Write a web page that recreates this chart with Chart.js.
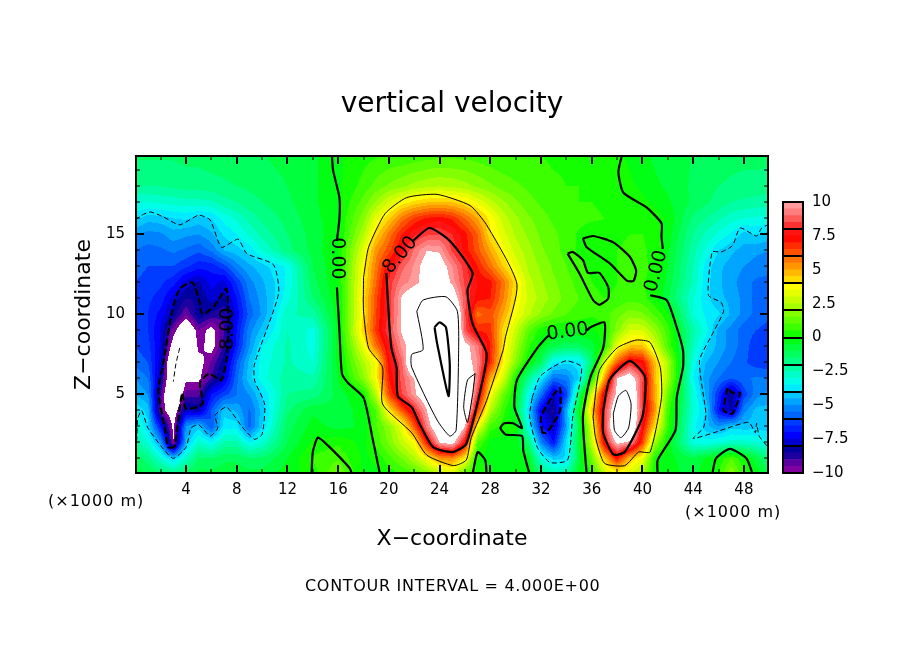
<!DOCTYPE html>
<html>
<head>
<meta charset="utf-8">
<script src="https://cdn.jsdelivr.net/npm/chart.js@4"></script>
<style>
    html, body { margin: 0; background: #fff; }
    #page { position: relative; width: 904px; height: 654px; overflow: hidden; }
    canvas { position: absolute; }
    .note { position: absolute; font-family: "DejaVu Sans"; color: #000; white-space: nowrap; }
</style>
</head>
<body>
<div id="page">
    <canvas id="contourChart" width="904" height="654" style="left:0;top:0;width:904px;height:654px"></canvas>
    <canvas id="colorBar" width="134" height="300" style="left:770px;top:192px;width:134px;height:300px"></canvas>
    <div class="note" style="left:48px;top:491px;font-size:16px;letter-spacing:1px">(×1000 m)</div>
    <div class="note" style="left:685px;top:502px;font-size:16px;letter-spacing:1px">(×1000 m)</div>
    <div class="note" style="left:305px;top:576px;font-size:16px;letter-spacing:0.7px">CONTOUR INTERVAL = 4.000E+00</div>
</div>
<script>
const xNodes = [0,1,2,3,4,5,6,7,8,9,10, 12,14,16,18, 19,20,21,22,23,24,25,26,27,28,29,30,
    31,32,33,34,35,36,37,38,39,40,41,42, 44,45,46,47,48,49,50];
const zNodes = [20,18,17,16,15,14,13,12,11,10,9,8,7,6,5,4,3,2,1,0];

// vertical velocity, one row per zNodes entry
const wRows = [
    [-1.4,-1.4,-1.4,-1.4,-1.3,-1.3,-1.2,-1.2,-1.1,-1.0,-1.0, -0.8,-0.6,-0.1,0.3, 0.4,0.5,0.5,0.6,0.7,0.8,0.8,0.8,0.7,0.6,0.5,0.5, 0.5,0.5,0.4,0.4,0.4,0.3,0.3,0.1,-0.1,-0.4,-0.6,-0.8, -1,-1.1,-1.2,-1.3,-1.3,-1.3,-1.3],
    [-2,-2,-2,-1.9,-1.8,-1.8,-1.7,-1.6,-1.5,-1.4,-1.3, -1,-0.6,-0.1,0.7, 1.2,1.6,1.9,2.2,2.4,2.5,2.4,2.2,1.9,1.6,1.3,1.1, 0.9,0.7,0.6,0.5,0.5,0.4,0.4,0.3,0.1,-0.1,-0.4,-0.6, -1.1,-1.3,-1.5,-1.6,-1.7,-1.7,-1.8],
    [-3,-3,-2.9,-2.8,-2.7,-2.7,-2.6,-2.2,-2,-1.7,-1.5, -1.1,-0.6,-0.1,1.2, 2.1,3,3.7,4.2,4.5,4.6,4.5,4.1,3.4,2.7,2.1,1.6, 1.2,0.9,0.7,0.6,0.5,0.5,0.4,0.4,0.3,0.1,-0.1,-0.4, -1.1,-1.4,-1.7,-2,-2.1,-2.2,-2.3],
    [-3.8,-4.3,-4.2,-4,-3.9,-4.2,-4,-3.3,-2.9,-2.3,-1.9, -1.3,-0.7,-0.1,1.8, 3.3,4.4,5.7,6.6,7.1,7.3,6.9,6,5,3.8,2.8,2.1, 1.6,1.2,0.9,0.8,0.7,0.6,0.5,0.5,0.4,0.3,0.2,-0.1, -1.6,-2,-2.4,-2.8,-3,-3.1,-3.2],
    [-5,-5.2,-5.1,-4.7,-4.9,-5,-4.6,-3.9,-3.5,-2.9,-2.3, -1.5,-0.8,-0.1,2.4, 4.3,5.7,7,7.9,8.4,8.5,8,7.2,6,4.1,3.2,2.4, 1.9,1.4,1.1,0.8,0.4,0.1,0.3,0.4,0.5,0.5,0.3,-0.2, -2,-2.6,-3.1,-3.6,-4.2,-3.9,-4.2],
    [-5.5,-5.7,-5.6,-5.4,-5.6,-5.9,-5.4,-4.5,-4.2,-3.8,-3, -1.7,-0.8,0,3.2, 5.3,6.3,7.6,9.1,10,9.9,8.4,7.3,6.2,5,3.7,2.8, 2.2,1.6,1.2,0.8,0.4,0.3,0.4,0.5,0.6,0.6,0.3,-0.4, -2.3,-3.1,-4,-4.4,-4.7,-4.9,-5],
    [-5.8,-6,-6,-6,-6.4,-6.8,-6.8,-6.2,-5.2,-4.6,-4.2, -3.4,-1,0,3.7, 5.7,7.5,8.8,9.6,10.5,10.6,9.5,8.2,7,5.8,4.5,3.3, 2.4,1.9,1.4,1,0.6,0.4,0.4,0.5,0.6,0.6,0.4,-0.5, -2.5,-3.7,-4.4,-4.7,-5,-5.2,-5.3],
    [-6,-6.2,-6.4,-6.8,-7.7,-8.1,-7.3,-7.7,-6.4,-5.2,-4.6, -3.4,-1.2,0,3.9, 6,8.2,9.3,9.7,10.5,11,9.8,8.4,7.5,7.2,5.8,4.2, 2.7,2.1,1.6,1.2,0.8,0.5,0.3,0.5,0.7,0.6,0.2,-0.7, -2.6,-3.8,-4.4,-4.8,-5.3,-5.6,-5.7],
    [-6.2,-6.4,-6.7,-7.7,-8.5,-8.4,-7.8,-8.2,-7,-5.5,-4.8, -3.2,-1.5,-0.1,4.2, 6.4,8.2,10.1,11,12.1,12.1,11,8.6,7.2,7,5.6,3.9, 2.9,2.3,1.8,1.3,1,0.7,0.5,0.6,0.8,0.7,0.1,-0.9, -3,-3.8,-4.4,-4.6,-5.2,-5.7,-5.8],
    [-6.3,-6.5,-7.2,-8.2,-9.5,-8.1,-8.6,-8.9,-7.3,-5.8,-4.9, -2.6,-2.3,-0.2,4.1, 6.5,8.2,10.1,11.2,13.5,14.3,12.8,8.6,5.8,6.3,5,3.6, 2.6,1.9,1.4,1,0.8,0.6,0.8,1.3,1.8,1.6,0.9,0.1, -3,-3.6,-3.9,-4.6,-5.2,-5.7,-5.9],
    [-6.3,-6.5,-7.6,-9.6,-11.5,-9.5,-10.4,-9,-7,-5.2,-4.3, -2.5,-3.2,-0.3,4.4, 6.7,8.5,10.1,11,14,16,13.5,8.7,7,6.7,4.3,2.8, 1.2,0.2,-0.1,-0.1,-0.1,-0.1,0.3,1.8,3,3,2,0.7, -2.3,-3.3,-4.7,-5.2,-5.8,-6,-6.2],
    [-6,-6.3,-7.6,-10.6,-12.5,-9.7,-10.4,-8.8,-6.8,-5,-3.5, -2.4,-3.2,-0.3,3.4, 5.8,7.7,9.6,10.7,12.4,15.5,13,10.5,9.2,7,4.2,2.3, 0.6,-0.3,-0.9,-1.3,-1.2,-0.7,0.2,3.4,4.6,4.6,3,1, -2.6,-3.9,-4.7,-5.2,-5.8,-6.3,-6.5],
    [-5.7,-6,-7.8,-12,-13,-10.4,-9.4,-8.2,-6,-4.3,-3.3, -2.4,-3,-0.3,2.4, 3.6,7.4,8.8,12.2,13.3,14.8,12.8,10.6,9.5,6.9,3.9,1.8, 0,-1.2,-3.6,-3.9,-3.8,-1.5,3,6.1,7.9,7.4,4.6,2.3, -3.2,-4.5,-5,-5.5,-5.9,-6.3,-6.4],
    [-5,-5.5,-8.2,-12,-10.2,-10.2,-9,-7.7,-5.6,-4.2,-3.2, -2.2,-2.4,-0.5,1.8, 3.7,7,8.7,10,11.5,13.5,12.8,12,9.2,5,3,0.2, -1.9,-3.7,-5.6,-5.3,-4,0.2,5,10.1,11,8.6,4.7,2.3, -3.5,-4.8,-5.5,-6,-5.6,-5.4,-5.5],
    [-4.5,-5,-9,-12.5,-9.2,-9.2,-7,-6.2,-5.5,-5,-4, -2,-1.8,-0.8,0.1, 2.6,6.4,8.4,9.8,11,12.5,13,12.5,8.3,3.7,1.4,-0.1, -3.2,-5.5,-8,-6.3,-1.5,3,7.8,10.3,12.2,8.2,5,1.3, -3,-4.6,-6.5,-8.5,-6.3,-5.2,-4.8],
    [-3.5,-4.2,-9.5,-11,-7.8,-8.1,-6,-4.2,-4.6,-5.6,-4.3, -1.6,-0.6,-0.9,-0.2, 1,4,6.2,8,10,12.3,13,12.2,6.6,2.4,0.7,-0.6, -3.8,-7.5,-8.7,-4.6,-0.4,4.5,8.3,11.5,12.5,8.4,5.2,0.8, -3,-4,-7,-8.2,-5.2,-4.3,-4.3],
    [-2.7,-3.9,-7,-10.3,-5,-4.2,-6,-3.7,-3.7,-5.8,-4, -1.2,-0.3,-0.7,-0.4, 0.9,1.9,3.3,6.2,9.3,11.5,12.8,10,3.6,0.8,0.3,0.1, -3.3,-6.9,-8,-4.8,-0.8,3.2,8.3,12.3,12.4,7.5,4.1,0.6, -3.3,-4.3,-5,-4.2,-4.3,-4.2,-4.3],
    [-2.2,-3,-4.8,-10,-4.4,-2.8,-3.4,-2.4,-2.4,-3.5,-2.9, -1,0.1,0.4,-0.2, 0.7,1.6,2.7,3.6,7.2,10,10.6,7.5,1,-0.2,-0.3,-0.2, -1.5,-5.2,-7,-3.8,-0.6,2.6,7.6,10.3,9.8,6.6,2,-0.1, -3.2,-3.3,-3,-2.8,-2.8,-3,-3.5],
    [-1.2,-1.8,-2.9,-4.1,-2.7,-1.4,-1.5,-1.1,-1.1,-1.4,-1.4, -0.5,0.6,0.9,-0.1, 0.1,0.8,1.5,2.4,3.7,5.2,5.4,4,0.1,-0.3,-0.4,-0.3, -0.2,-3,-4.2,-3.9,-0.7,1.4,4.4,7.2,4.6,3.4,0.2,-0.3, -0.9,-0.4,0.1,1,0.1,-0.8,-1.8],
    [-0.7,-1,-1.3,-1.6,-1.2,-0.8,-0.8,-0.7,-0.7,-0.8,-0.8, -0.2,0.2,1.6,-0.2, -0.1,0.2,0.5,0.9,1.5,2.4,2.9,0.9,0.3,-0.1,-0.2,-0.2, 0,-1.5,-2.2,-2,-0.3,0.4,2.5,3.2,2.9,2.1,0.1,-0.3, -0.7,-0.2,0.5,2,0.5,-0.2,-0.8]
];

// contour lines, pairs of x (km) and z (km)
const zeroWest = [[15.5,20],[15.6,19],[16.1,17.3],[16.1,16],[15.9,14.6]];
const zeroWestLow = [[15.9,11.7],[16.1,9],[16.3,6.3],[16.8,5.7],[18,4.8],[18.7,2.3],[19.3,0]];
const zeroBumpWest = [[13.9,0],[14,1.4],[14.4,2.3],[15.2,1.8],[16.9,0.4],[17.1,0]];
const zeroBumpMid = [[26.6,0],[27,1.4],[27.6,0.9],[27.7,0]];
const zeroHook = [[31.1,0],[30.6,1.5],[30.5,2.4],[29.2,2.5],[28.8,2.9],[29.1,3.2],[29.8,3.2],[30.5,2.9],[29.9,4.2],[30.1,5.9],[31.7,7.9],[32.6,8.7]];
const zeroHookEnd = [[35.6,9],[35.9,9.2],[37,9.5],[36.9,7.9],[35.9,6.1],[35.3,3.6],[35.6,0]];
const zeroEast = [[38.4,20],[38.1,18.9],[38.5,17.6],[40.3,16.7],[41.5,15.7],[41.5,14.9],[41.6,14.1]];
const zeroEastLow = [[40.6,11.2],[41.9,10.9],[42.7,9.2],[43.2,7.75],[43.2,6.7],[42.7,4.8],[42.6,2.75],[41.2,0.9],[41.2,0]];
const zeroLoopA = [[35.3,14.75],[36.1,14.9],[37.7,14.5],[39,13.6],[39.5,12.75],[39.3,12.1],[38.8,12.1],[37.4,13.2],[35.6,14.2],[35.3,14.75]];
const zeroLoopB = [[34.1,13.8],[34.5,13.9],[35.3,13.4],[35.7,12.6],[36.6,12.6],[37.3,11.7],[37.3,11],[36.6,10.6],[36.1,10.9],[35,12.6],[34.1,13.8]];
const zeroBumpEast = [[45.5,0],[45.8,1],[46.9,1.6],[48.2,1],[48.7,0]];

const fourCentral = [[18,12.3],[18.4,14.2],[19.7,16.3],[21.4,17.3],[23.8,17.5],[26.4,16.8],[27.7,15.6],[30.1,11.9],[29.2,8.6],[29,7.75],[27.7,4.6],[26.5,2.3],[26.1,0.9],[25.1,0.55],[23,1.2],[21.8,2.6],[19.5,4.4],[19.5,6.7],[18.4,7.9],[18,10.2],[18,12.3]];
const eightCentral = [[21.9,14.6],[23.2,15.4],[24.8,14.6],[26.6,12.6],[26.2,11.5],[26.6,9.4],[27.7,7.6],[27.4,5.9],[26.1,1.9],[25,1.4],[23.5,1.7],[22.4,3.2],[21.8,4.2],[20.7,4.9],[20.6,6.7],[20.2,7.9],[20,9.8],[19.8,12.6]];
const twelveCentral = [[22.2,10.2],[22.7,10.9],[24.5,11.1],[25.4,10.2],[25.5,7.75],[25.3,2.75],[24.8,2.4],[23.8,3.4],[21.8,6.7],[21.8,7.5],[22.7,7.8],[22.2,10.2]];
const sixteenCentral = [[23.6,9.2],[24,9.5],[24.5,9.2],[24.8,6.9],[24.7,4.9],[23.8,8.2],[23.6,9.2]];
const twelveSide = [[26.8,6.3],[26.2,5.9],[25.9,4.2],[26.2,3.25],[26.6,5],[26.8,6.3]];

const fourEast = [[36.1,3.6],[36.6,6.5],[38,7.9],[39.5,8.4],[40.6,8.25],[41.4,6.7],[41.5,4.8],[40.6,1.4],[39.7,1.4],[38.6,0.55],[37,0.7],[36.3,2.3],[36.1,3.6]];
const eightEast = [[36.9,4],[37.4,5.9],[39,7.1],[40.2,6.1],[40,3.6],[38.6,1.4],[37.7,1.25],[36.9,2.6],[36.9,4]];
const twelveEast = [[37.7,3.8],[38.1,4.9],[38.7,5.25],[39.1,4.4],[38.9,2.9],[38.3,2.3],[37.8,2.75],[37.7,3.8]];

const minusFourWest = [[0,15.9],[0.5,16.2],[1.2,16.4],[2.2,16.1],[3.5,15.6],[5,16.2],[5.9,15.9],[6.8,14.2],[8.1,14.7],[8.8,13.8],[10.9,13.1],[11.3,11.3],[9.4,6.9],[9.4,5.9],[10.2,4.4],[10,2.5],[9.4,2.2],[8.5,2.9],[7.2,4.2],[6.3,3.7],[6.5,2.9],[5.9,2.4],[5,3.1],[4.4,2.9],[4,1.7],[3,1],[2.2,1.6],[1,2.9],[0.5,4],[0.2,3.5],[0.1,2]];
const minusEightWest = [[3.1,1.7],[2.6,1.7],[2.3,3],[1.8,5.25],[2.2,6.9],[2.9,10.2],[3.5,11.6],[4.5,12],[5,11],[5.3,10],[6.2,10.5],[7.2,11.6],[7.3,7.9],[6.8,5.9],[5.8,6.3],[5.1,5.7],[5.3,4.4],[4,4.1],[3.7,5.1],[3.1,1.7]];
const minusTwelveWest = [[3.5,7.9],[3.2,6.9],[3,5.8]];
const minusFourMid = [[31.3,4.8],[31.9,6.1],[32.9,6.7],[34,7.1],[35.2,6.7],[34.5,3.6],[34.1,0.9],[32.7,0.75],[31.7,1.7],[31.1,3.6],[31.3,4.8]];
const minusEightMid = [[32.1,2.6],[32,3.6],[33,5],[33.5,5.4],[33.5,4],[33,3.2],[32.4,2.6],[32.1,2.6]];
const minusFourEast = [[49.8,1.8],[49.2,2.4],[49,3.2],[48.9,2.6],[48.4,3.25],[47.1,3],[45.6,2.6],[44,2.25],[44.8,2.9],[45,3.8],[44.5,7.1],[45.6,8.9],[46.4,10.2],[46.2,10.75],[45.2,11.2],[45.5,13.9],[46.2,13.9],[47.1,14.3],[47.7,15.4],[49,14.9],[49.4,15.4],[49.9,15.6]];
const minusEightEast = [[46.7,5.4],[46.4,4],[47.1,3.8],[47.7,5.1],[47.1,5.1],[46.7,5.4]];

// levels are 0.5 wide, from -10 up to 10
const barLevels = [-10,-9.5,-9,-8.5,-8,-7.5,-7,-6.5,-6,-5.5,-5,-4.5,-4,-3.5,-3,-2.5,-2,-1.5,-1,-0.5,
    0,0.5,1,1.5,2,2.5,3,3.5,4,4.5,5,5.5,6,6.5,7,7.5,8,8.5,9,9.5];
const barDividers = [-10,-8,-6,-4,-2,0,2,4,6,8,10];
const barTickValues = [-10,-7.5,-5,-2.5,0,2.5,5,7.5,10];
const barTickLabels = ["−10","−7.5","−5","−2.5","0","2.5","5","7.5","10"];
const xTickValues = [4,8,12,16,20,24,28,32,36,40,44,48];
const xMinorValues = [2,6,10,14,18,22,26,30,34,38,42,46];
const zTickValues = [5,10,15];
const zMinorValues = [1,2,3,4,6,7,8,9,11,12,13,14,16,17,18,19];

const bandColors = [
    [128,0,160],[90,0,160],[30,0,160],[0,0,160],
    [0,0,210],[0,0,255],[0,30,255],[0,60,255],
    [0,100,255],[0,130,255],[0,165,255],[0,200,255],
    [0,235,255],[0,255,230],[0,255,200],[0,255,165],
    [0,255,130],[0,255,95],[0,255,60],[0,255,20],
    [20,255,0],[60,255,0],[95,255,0],[130,255,0],
    [165,255,0],[200,255,0],[230,255,0],[255,255,0],
    [255,220,0],[255,185,0],[255,150,0],[255,115,0],
    [255,80,0],[255,45,0],[255,10,0],[255,20,20],
    [255,50,50],[255,90,90],[255,125,125],[255,155,155]
];

const contourLabels = [
    { text: "0.00", x: 15.9, z: 13.5, angle: 90 },
    { text: "8.00", x: 7.3, z: 9.1, angle: -90 },
    { text: "8.00", x: 20.9, z: 13.7, angle: -50 },
    { text: "0.00", x: 34.1, z: 8.9, angle: -8 },
    { text: "0.00", x: 41.1, z: 12.7, angle: -75 }
];

const THICK = 2.2;
const THIN = 1;
const contourLines = [
    [zeroWest, THICK, []], [zeroWestLow, THICK, []], [zeroBumpWest, THICK, []], [zeroBumpMid, THICK, []],
    [zeroHook, THICK, []], [zeroHookEnd, THICK, []], [zeroEast, THICK, []], [zeroEastLow, THICK, []],
    [zeroLoopA, THICK, []], [zeroLoopB, THICK, []], [zeroBumpEast, THICK, []],
    [fourCentral, THIN, []], [eightCentral, THICK, []], [twelveCentral, THIN, []], [sixteenCentral, THICK, []], [twelveSide, THIN, []],
    [fourEast, THIN, []], [eightEast, THICK, []], [twelveEast, THIN, []],
    [minusFourWest, THIN, [5, 3]], [minusEightWest, THICK, [7, 3]], [minusTwelveWest, THIN, [5, 3]],
    [minusFourMid, THIN, [5, 3]], [minusEightMid, THICK, [7, 3]],
    [minusFourEast, THIN, [5, 3]], [minusEightEast, THICK, [7, 3]]
];

function lookupColor(value) {
    const band = Math.floor((value + 10) * 2);
    if (band < 0 || band >= bandColors.length) return [255, 255, 255];
    return bandColors[band];
}

function findCell(nodes, value, descending) {
    for (let i = 0; i < nodes.length - 1; i++) {
        const a = nodes[i], b = nodes[i + 1];
        if (descending ? (value <= a && value >= b) : (value >= a && value <= b)) {
            return { index: i, part: (value - a) / (b - a) };
        }
    }
    return { index: nodes.length - 2, part: 1 };
}

const fieldPlugin = {
    id: "field",
    beforeDatasetsDraw(chart) {
        const area = chart.chartArea;
        const xScale = chart.scales.x;
        const yScale = chart.scales.y;
        const width = Math.round(area.right - area.left);
        const height = Math.round(area.bottom - area.top);
        const off = document.createElement("canvas");
        off.width = width;
        off.height = height;
        const offCtx = off.getContext("2d");
        const image = offCtx.createImageData(width, height);

        const columns = [];
        for (let px = 0; px < width; px++) {
            columns.push(findCell(xNodes, xScale.getValueForPixel(area.left + px + 0.5), false));
        }

        for (let py = 0; py < height; py++) {
            const row = findCell(zNodes, yScale.getValueForPixel(area.top + py + 0.5), true);
            const upper = wRows[row.index];
            const lower = wRows[row.index + 1];
            for (let px = 0; px < width; px++) {
                const col = columns[px];
                const top = upper[col.index] + (upper[col.index + 1] - upper[col.index]) * col.part;
                const bottom = lower[col.index] + (lower[col.index + 1] - lower[col.index]) * col.part;
                const color = lookupColor(top + (bottom - top) * row.part);
                const at = (py * width + px) * 4;
                image.data[at] = color[0];
                image.data[at + 1] = color[1];
                image.data[at + 2] = color[2];
                image.data[at + 3] = 255;
            }
        }
        offCtx.putImageData(image, 0, 0);
        chart.ctx.drawImage(off, area.left, area.top);
    },
    afterDatasetsDraw(chart) {
        const ctx = chart.ctx;
        const area = chart.chartArea;
        const xScale = chart.scales.x;
        const yScale = chart.scales.y;

        ctx.save();
        ctx.strokeStyle = "#000";
        ctx.lineWidth = 2;
        ctx.strokeRect(area.left, area.top, area.right - area.left, area.bottom - area.top);

        function xTick(value, size) {
            const px = Math.round(xScale.getPixelForValue(value));
            ctx.beginPath();
            ctx.moveTo(px, area.bottom);
            ctx.lineTo(px, area.bottom - size);
            ctx.moveTo(px, area.top);
            ctx.lineTo(px, area.top + size);
            ctx.stroke();
        }
        function zTick(value, size) {
            const py = Math.round(yScale.getPixelForValue(value));
            ctx.beginPath();
            ctx.moveTo(area.left, py);
            ctx.lineTo(area.left + size, py);
            ctx.moveTo(area.right, py);
            ctx.lineTo(area.right - size, py);
            ctx.stroke();
        }
        xTickValues.forEach(v => xTick(v, 8));
        zTickValues.forEach(v => zTick(v, 8));
        ctx.lineWidth = 1;
        xMinorValues.forEach(v => xTick(v, 4));
        zMinorValues.forEach(v => zTick(v, 4));

        ctx.fillStyle = "#000";
        ctx.font = "19px 'DejaVu Sans'";
        ctx.textAlign = "center";
        ctx.textBaseline = "middle";
        contourLabels.forEach(label => {
            ctx.save();
            ctx.translate(xScale.getPixelForValue(label.x), yScale.getPixelForValue(label.z));
            ctx.rotate(label.angle * Math.PI / 180);
            ctx.fillText(label.text, 0, 0);
            ctx.restore();
        });
        ctx.restore();
    }
};

new Chart(document.getElementById("contourChart"), {
    type: "scatter",
    data: {
        datasets: contourLines.map(line => ({
            data: line[0].map(p => ({ x: p[0], y: p[1] })),
            showLine: true,
            pointRadius: 0,
            borderColor: "#000",
            borderWidth: line[1],
            borderDash: line[2],
            tension: 0.2
        }))
    },
    plugins: [fieldPlugin],
    options: {
        responsive: false,
        animation: false,
        layout: { padding: 0 },
        plugins: {
            legend: { display: false },
            tooltip: { enabled: false },
            title: {
                display: true,
                text: "vertical velocity",
                color: "#000",
                font: { family: "'DejaVu Sans'", size: 28, weight: "normal", lineHeight: 1.2 },
                padding: { top: 88, bottom: 34.4 }
            }
        },
        scales: {
            x: {
                type: "linear",
                min: 0.055,
                max: 49.9,
                grid: { display: false },
                border: { display: false },
                afterBuildTicks: scale => { scale.ticks = xTickValues.map(v => ({ value: v })); },
                afterFit: scale => { scale.height = 181; },
                ticks: {
                    color: "#000",
                    padding: 0,
                    maxRotation: 0,
                    autoSkip: false,
                    font: { family: "'DejaVu Sans'", size: 15 }
                },
                title: {
                    display: true,
                    text: "X−coordinate",
                    color: "#000",
                    padding: { top: 4, bottom: 102 },
                    font: { family: "'DejaVu Sans'", size: 22, weight: "normal" }
                }
            },
            y: {
                type: "linear",
                min: 0.09,
                max: 19.9,
                grid: { display: false },
                border: { display: false },
                afterBuildTicks: scale => { scale.ticks = zTickValues.map(v => ({ value: v })); },
                afterFit: scale => { scale.width = 136; },
                ticks: {
                    color: "#000",
                    padding: 3,
                    autoSkip: false,
                    font: { family: "'DejaVu Sans'", size: 15 }
                },
                title: {
                    display: true,
                    text: "Z−coordinate",
                    color: "#000",
                    padding: { top: 71 },
                    font: { family: "'DejaVu Sans'", size: 22, weight: "normal" }
                }
            },
            // keeps room for the colour bar so the title centres over the plot
            side: {
                position: "right",
                grid: { display: false },
                border: { display: false },
                ticks: { display: false },
                afterFit: scale => { scale.width = 136; }
            }
        }
    }
});

const barFramePlugin = {
    id: "barFrame",
    afterDatasetsDraw(chart) {
        const ctx = chart.ctx;
        const area = chart.chartArea;
        const yScale = chart.scales.y;
        ctx.save();
        ctx.strokeStyle = "#000";
        ctx.lineWidth = 2;
        ctx.strokeRect(area.left, area.top, area.right - area.left, area.bottom - area.top);
        barDividers.forEach(value => {
            const py = Math.round(yScale.getPixelForValue(value));
            ctx.beginPath();
            ctx.moveTo(area.left, py);
            ctx.lineTo(area.right, py);
            ctx.stroke();
        });
        ctx.restore();
    }
};

new Chart(document.getElementById("colorBar"), {
    type: "bar",
    data: {
        labels: [""],
        datasets: barLevels.map((level, i) => ({
            data: [[level, level + 0.5]],
            backgroundColor: "rgb(" + bandColors[i].join(",") + ")",
            grouped: false,
            barPercentage: 1,
            categoryPercentage: 1
        }))
    },
    plugins: [barFramePlugin],
    options: {
        responsive: false,
        animation: false,
        layout: { padding: { left: 13, right: 0, top: 8, bottom: 19 } },
        plugins: { legend: { display: false }, tooltip: { enabled: false } },
        scales: {
            x: { display: false },
            y: {
                position: "right",
                min: -10,
                max: 10,
                grid: { display: false },
                border: { display: false },
                afterBuildTicks: scale => { scale.ticks = barTickValues.map(v => ({ value: v })); },
                afterFit: scale => { scale.width = 101; },
                ticks: {
                    color: "#000",
                    padding: 1,
                    autoSkip: false,
                    font: { family: "'DejaVu Sans'", size: 15 },
                    callback: value => barTickLabels[barTickValues.indexOf(value)]
                }
            }
        }
    }
});
</script>
</body>
</html>
